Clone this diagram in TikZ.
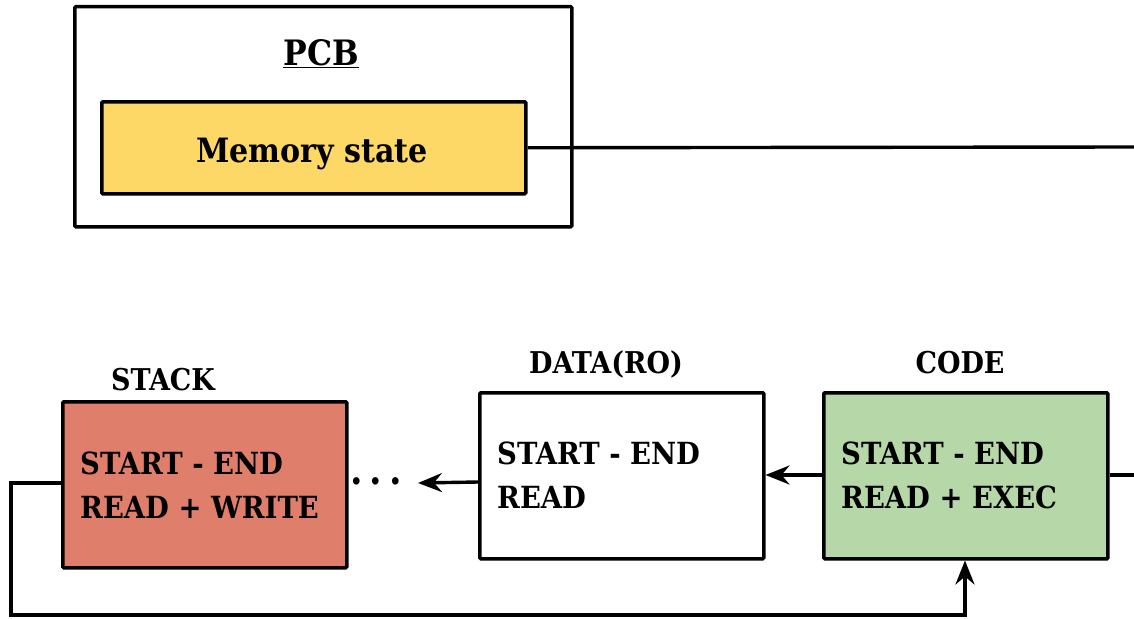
\documentclass[tikz,border=0pt]{standalone}
\usepackage{fontspec}
\setmainfont{DejaVu Serif Condensed}
\usetikzlibrary{arrows.meta}
\definecolor{memfill}{HTML}{FDD866}
\definecolor{stackfill}{HTML}{E07E6C}
\definecolor{codefill}{HTML}{B6D7A8}
\tikzset{
  box/.style={draw=black, line width=3.5pt, rounded corners=1pt, anchor=north west},
  seg/.style={box, minimum width=284pt, minimum height=166pt},
  segtext/.style={anchor=north west, align=left, font=\bfseries\fontsize{30.5}{44}\selectfont, inner sep=0pt},
  seglabel/.style={anchor=base, font=\bfseries\fontsize{30}{34}\selectfont, inner sep=0pt},
  wire/.style={line width=3.4pt},
  tip/.tip={Stealth[length=24pt,width=19pt,inset=8pt]},
  arr/.style={wire, -tip},
}
\begin{document}
\begin{tikzpicture}[x=1pt,y=-1pt]
  \useasboundingbox (0,0) rectangle (1134,618);

  % process control block
  \node[box, minimum width=497pt, minimum height=220pt] (pcb) at (73,5) {};
  \node[anchor=base, font=\bfseries\fontsize{35}{40}\selectfont, inner sep=0pt] (pcbt) at (321,65) {\underline{PCB}};
  \node[box, fill=memfill, minimum width=424pt, minimum height=92pt] (mem) at (100,100) {};
  \node[anchor=base, font=\bfseries\fontsize{33.5}{38}\selectfont, inner sep=0pt] (memt) at (312,162) {Memory state};
  \coordinate (memout) at (1134,147);
  \draw[wire] (mem.east) -- (memout);

  % segments
  \node[seg, fill=stackfill] (stack) at (61,400) {};
  \node[seglabel] (stackl) at (163,390) {STACK};
  \node[segtext] (stackt) at (80,452) {START - END\\READ + WRITE};

  \node[seg, fill=white] (data) at (478,391) {};
  \node[seglabel] (datal) at (606,373) {DATA(RO)};
  \node[segtext] (datat) at (497,442) {START - END\\READ};

  \node[seg, fill=codefill] (code) at (822,391) {};
  \node[seglabel] (codel) at (960,373) {CODE};
  \node[segtext] (codet) at (841,442) {START - END\\READ + EXEC};

  % connections
  \node[font=\bfseries\fontsize{40}{40}\selectfont, inner sep=0pt, anchor=base] (dots) at (376,484) {.\hspace{7pt}.\hspace{7pt}.};
  \coordinate (dataleft) at (478,482);
  \coordinate (dotsend) at (418,483);
  \draw[arr] (dataleft) -- (dotsend);
  \draw[arr] (code.west |- 0,475) -- (data.east |- 0,475);
  \coordinate (codeout) at (1134,475);
  \draw[wire] (code.east |- 0,475) -- (codeout);

  \coordinate (loopa) at (11,483);
  \coordinate (loopb) at (11,615);
  \coordinate (loopc) at (965,615);
  \draw[arr] (stack.west |- 0,483) -- (loopa) -- (loopb) -- (loopc) -- (code.south -| 965,0);
\end{tikzpicture}
\end{document}
